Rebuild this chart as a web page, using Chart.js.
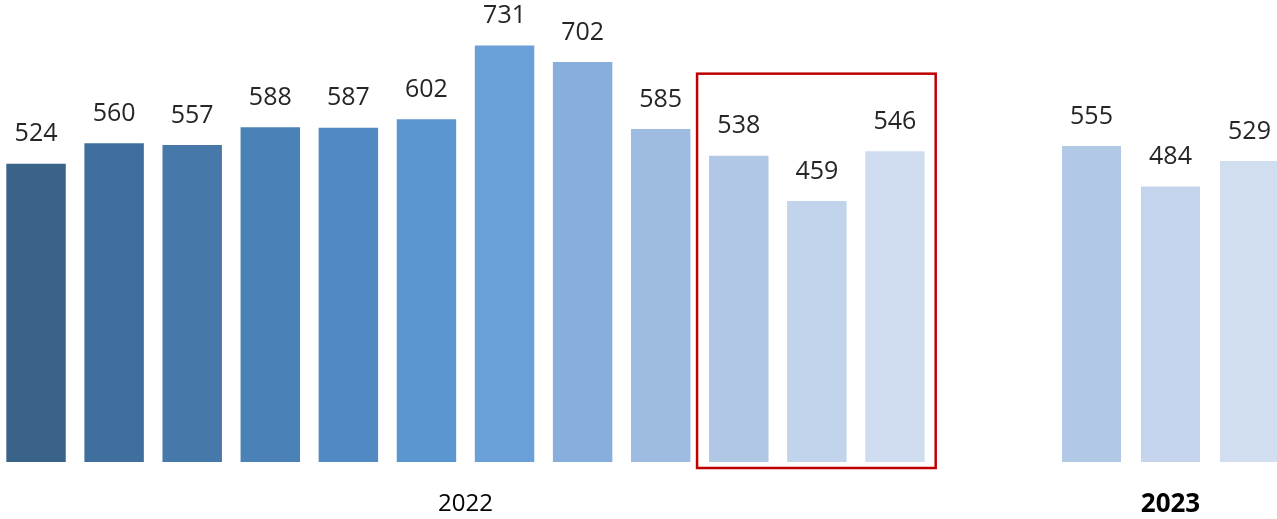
<!DOCTYPE html>
<html>
<head>
<meta charset="utf-8">
<script src="https://cdn.jsdelivr.net/npm/chart.js@4/dist/chart.umd.min.js"></script>
<style>
  html, body { margin: 0; padding: 0; background: #fff; }
  body { width: 1277px; height: 519px; overflow: hidden; position: relative; }
  .box { position: absolute; top: 0; height: 519px; }
  #box2022 { left: -3px; width: 943px; }
  #box2023 { left: 1052px; width: 237px; }
</style>
</head>
<body>
<div class="box" id="box2022"><canvas id="chart2022"></canvas></div>
<div class="box" id="box2023"><canvas id="chart2023"></canvas></div>
<script>
// monthly values
const months2022 = ['Jan', 'Feb', 'Mar', 'Apr', 'May', 'Jun', 'Jul', 'Aug', 'Sep', 'Oct', 'Nov', 'Dec'];
const values2022 = [524, 560, 557, 588, 587, 602, 731, 702, 585, 538, 459, 546];
const colors2022 = [
  '#3A6389', '#3F6F9C', '#4679AA', '#4A82B8', '#5189C2', '#5A96D0',
  '#6AA0D7', '#87AEDC', '#9EBCE2', '#B1C7E6', '#C2D3EC', '#D0DDF0',
];

const months2023 = ['Jan', 'Feb', 'Mar'];
const values2023 = [555, 484, 529];
const colors2023 = ['#B2C8E7', '#C3D4EC', '#D1DEF0'];

// Oct–Dec 2022 are framed in red
const highlightFrom = 9;
const highlightTo = 11;
const highlightTop = 680;

const Y_MAX = 795;
const FONT = '"Open Sans", "Liberation Sans", sans-serif';

// value labels above each bar
const valueLabels = {
  id: 'valueLabels',
  afterDatasetsDraw(chart) {
    const ctx = chart.ctx;
    const meta = chart.getDatasetMeta(0);
    ctx.save();
    ctx.font = '25px ' + FONT;
    ctx.fillStyle = '#262626';
    ctx.textAlign = 'center';
    ctx.textBaseline = 'bottom';
    meta.data.forEach((bar, i) => {
      ctx.fillText(chart.data.datasets[0].data[i], bar.x, bar.y - 16);
    });
    ctx.restore();
  },
};

const highlightBox = {
  id: 'highlightBox',
  afterDatasetsDraw(chart) {
    const bars = chart.getDatasetMeta(0).data;
    const first = bars[highlightFrom], last = bars[highlightTo];
    const left = first.x - first.width / 2 - 11;
    const right = last.x + last.width / 2 + 10;
    const top = chart.scales.y.getPixelForValue(highlightTop);
    const bottom = chart.chartArea.bottom + 6;
    const ctx = chart.ctx;
    ctx.save();
    ctx.strokeStyle = '#C00000';
    ctx.lineWidth = 2.5;
    ctx.strokeRect(left, top, right - left, bottom - top);
    ctx.restore();
  },
};

function makeChart(id, labels, values, colors, year, yearFont, barPct, padRight, plugins) {
  return new Chart(document.getElementById(id), {
    type: 'bar',
    data: {
      labels,
      datasets: [{
        data: values,
        backgroundColor: colors,
        borderColor: 'rgba(255,255,255,0.25)',
        borderWidth: 1,
        categoryPercentage: 1,
        barPercentage: barPct,
      }],
    },
    options: {
      responsive: true,
      maintainAspectRatio: false,
      animation: false,
      devicePixelRatio: 1,
      layout: { padding: { top: 8, left: 0, right: padRight, bottom: 0 } },
      plugins: {
        legend: { display: false },
        tooltip: { enabled: false },
      },
      scales: {
        x: {
          grid: { display: false },
          border: { display: false },
          ticks: { display: false },
          title: {
            display: true,
            text: year,
            color: '#000',
            font: Object.assign({ family: FONT, lineHeight: '29px' }, yearFont),
            padding: { top: 20, bottom: 0 },
          },
        },
        y: {
          display: false,
          min: 0,
          max: Y_MAX,
        },
      },
    },
    plugins,
  });
}

makeChart('chart2022', months2022, values2022, colors2022, '2022',
  { size: 24, weight: 'normal' }, 0.787, 6, [valueLabels, highlightBox]);
makeChart('chart2023', months2023, values2023, colors2023, '2023',
  { size: 26, weight: 'bold' }, 0.772, 0, [valueLabels]);
</script>
</body>
</html>
